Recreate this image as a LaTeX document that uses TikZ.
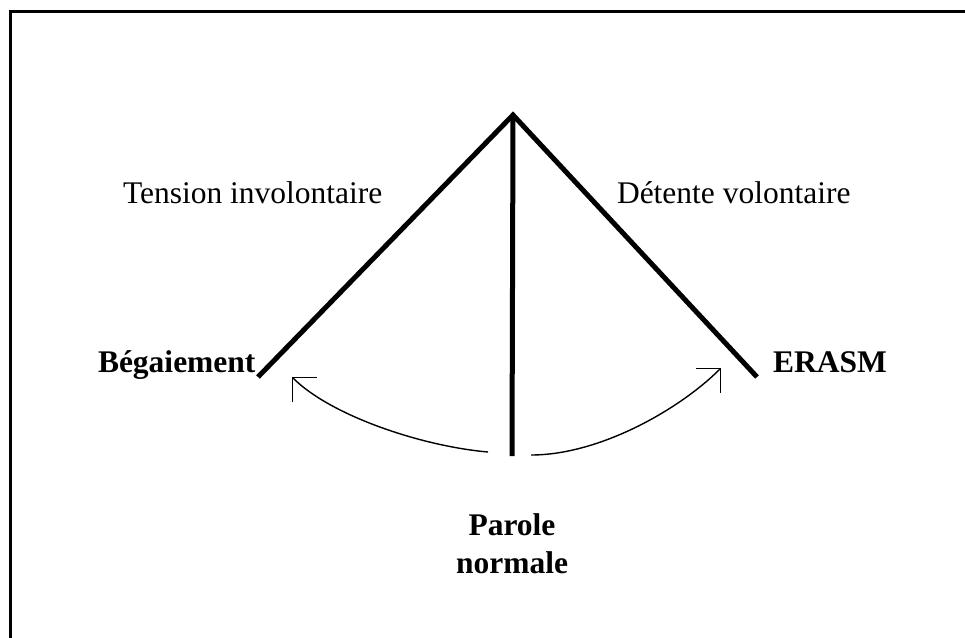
\documentclass[tikz,border=0pt]{standalone}
\usepackage{fontspec}
\setmainfont{Liberation Serif}
\usetikzlibrary{arrows.meta}
\begin{document}
\begin{tikzpicture}[x=1pt,y=-1pt,
  lbl/.style={inner sep=0pt,outer sep=0pt,font=\fontsize{31.5}{38}\selectfont},
  blbl/.style={lbl,font=\fontsize{31.5}{38}\selectfont\bfseries},
  thickline/.style={line width=5pt,line cap=butt},
  flowarrow/.style={line width=1.4pt,-{Straight Barb[length=17.5pt,width=35pt,line width=1.4pt]}}]
\clip (0,0) rectangle (965,637);
\fill[white] (0,0) rectangle (965,637);
\draw[line width=3pt] (10,11) rectangle (990,660);
% main lines
\coordinate (apex) at (513,115);
\coordinate (leftend) at (258,377);
\coordinate (rightend) at (757,377);
\coordinate (bottom) at (512,456);
\draw[thickline,line join=miter] (leftend) -- (apex) -- (rightend);
\draw[thickline] (apex) -- (bottom);
% labels
\node[lbl,anchor=base west] (tension) at (123,203) {Tension involontaire};
\node[lbl,anchor=base west] (detente) at (617,203) {Détente volontaire};
\node[blbl,anchor=base west] (beg) at (98,372) {Bégaiement};
\node[blbl,anchor=base west] (erasm) at (773,372) {ERASM};
\node[blbl,anchor=base,align=center] (parole) at (512,573) {Parole\\normale};
% arrows
\coordinate (lstart) at (488,452);
\coordinate (ltip) at (292,377);
\coordinate (rstart) at (531,455);
\coordinate (rtip) at (721,368);
\draw[flowarrow] (lstart) .. controls (420,446) and (330,415) .. (ltip);
\draw[flowarrow] (rstart) .. controls (600,455) and (680,409) .. (rtip);
\end{tikzpicture}
\end{document}
